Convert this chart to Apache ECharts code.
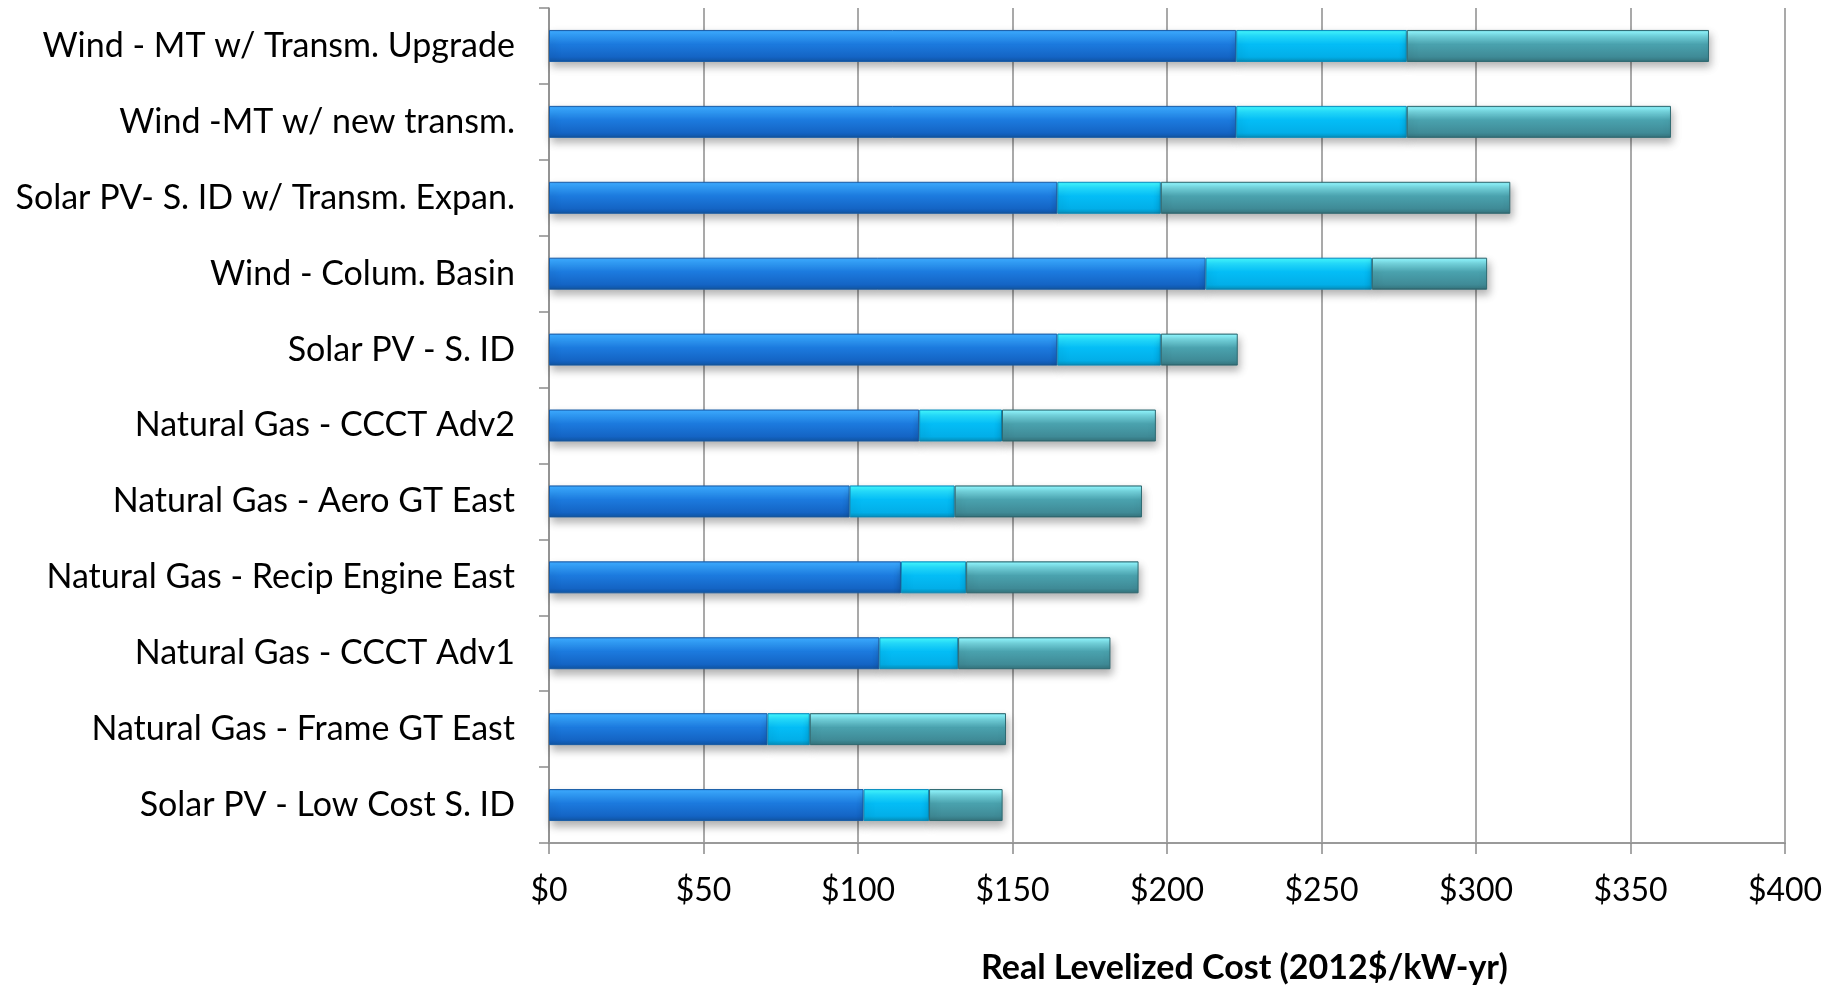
<!DOCTYPE html>
<html>
<head>
<meta charset="utf-8">
<script src="https://cdn.jsdelivr.net/npm/echarts@6/dist/echarts.min.js"></script>
<style>
  html, body { margin: 0; padding: 0; background: #fff; }
  #chart { width: 1839px; height: 988px; }
</style>
</head>
<body>
<div id="chart"></div>
<script>
// Resource options, listed top to bottom
const categories = [
  'Wind - MT w/ Transm. Upgrade',
  'Wind -MT w/ new transm.',
  'Solar PV- S. ID w/ Transm. Expan.',
  'Wind - Colum. Basin',
  'Solar PV - S. ID',
  'Natural Gas - CCCT Adv2',
  'Natural Gas - Aero GT East',
  'Natural Gas - Recip Engine East',
  'Natural Gas - CCCT Adv1',
  'Natural Gas - Frame GT East',
  'Solar PV - Low Cost S. ID'
];

// Stacked cost components ($/kW-yr, 2012$)
const segmentA = [222.4, 222.4, 164.5, 212.5, 164.5, 119.8, 97.3, 113.9, 106.9, 70.7, 101.8];
const segmentB = [55.2, 55.2, 33.5, 53.8, 33.5, 26.8, 34.0, 21.1, 25.5, 13.7, 21.2];
const segmentC = [97.8, 85.5, 113.1, 37.3, 24.9, 49.8, 60.6, 55.8, 49.3, 63.5, 23.8];

const xTicks = [0, 50, 100, 150, 200, 250, 300, 350, 400];
const axisTitle = 'Real Levelized Cost (2012$/kW-yr)';

const FONT = 'Lato, "Open Sans", sans-serif';

// Vertical gradient giving each bar a bevelled, glossy look
function bevel(stops) {
  return new echarts.graphic.LinearGradient(0, 0, 0, 1,
    stops.map(([o, c]) => ({ offset: o, color: c })));
}

const fillA = bevel([[0, '#2f86de'], [0.06, '#3aa8ff'], [0.2, '#2f9af6'], [0.45, '#1c7ade'], [0.85, '#1464c4'], [0.95, '#125aae'], [1, '#123f72']]);
const fillB = bevel([[0, '#1cc8f0'], [0.06, '#3cf2ff'], [0.2, '#22dcff'], [0.45, '#04bdf6'], [0.85, '#02aee8'], [0.95, '#0499c8'], [1, '#14688c']]);
const fillC = bevel([[0, '#5fb2bc'], [0.06, '#8cf2fa'], [0.2, '#72d2dc'], [0.45, '#4aa2ae'], [0.85, '#3f8a96'], [0.95, '#387a84'], [1, '#2c5258']]);

function seriesOf(name, data, fill, edge) {
  return {
    name: name,
    type: 'bar',
    stack: 'cost',
    data: data,
    barWidth: 32,
    itemStyle: {
      color: fill,
      borderColor: edge,
      borderWidth: 1,
      shadowColor: 'rgba(0,0,0,0.3)',
      shadowBlur: 8,
      shadowOffsetX: 2,
      shadowOffsetY: 5
    }
  };
}

const chart = echarts.init(document.getElementById('chart'), null, { renderer: 'canvas' });

chart.setOption({
  animation: false,
  backgroundColor: '#ffffff',
  title: {
    text: axisTitle,
    left: 976,
    top: 946,
    textStyle: { fontFamily: FONT, fontSize: 34, fontWeight: 'bold', color: '#000' }
  },
  grid: { left: 549, right: 54, top: 8, bottom: 145, containLabel: false },
  xAxis: {
    type: 'value',
    min: xTicks[0],
    max: xTicks[xTicks.length - 1],
    interval: xTicks[1] - xTicks[0],
    axisLine: { show: true, lineStyle: { color: '#9a9a9a', width: 2 } },
    axisTick: { show: true, length: 11, lineStyle: { color: '#8a8a8a', width: 1.5 } },
    splitLine: { show: true, lineStyle: { color: '#8c8c8c', width: 1.5 } },
    axisLabel: {
      margin: 32,
      fontFamily: FONT,
      fontSize: 32,
      color: '#000',
      formatter: v => '$' + v
    }
  },
  yAxis: {
    type: 'category',
    inverse: true,
    data: categories,
    axisLine: { show: true, lineStyle: { color: '#8c8c8c', width: 1.5 } },
    axisTick: { show: true, length: 10, alignWithLabel: false, lineStyle: { color: '#8c8c8c', width: 1.5 } },
    axisLabel: {
      margin: 34,
      fontFamily: FONT,
      fontSize: 34,
      color: '#000'
    }
  },
  series: [
    seriesOf('A', segmentA, fillA, '#1a5ea8'),
    seriesOf('B', segmentB, fillB, '#0a8fbf'),
    seriesOf('C', segmentC, fillC, '#2f6a72')
  ]
});
</script>
</body>
</html>
